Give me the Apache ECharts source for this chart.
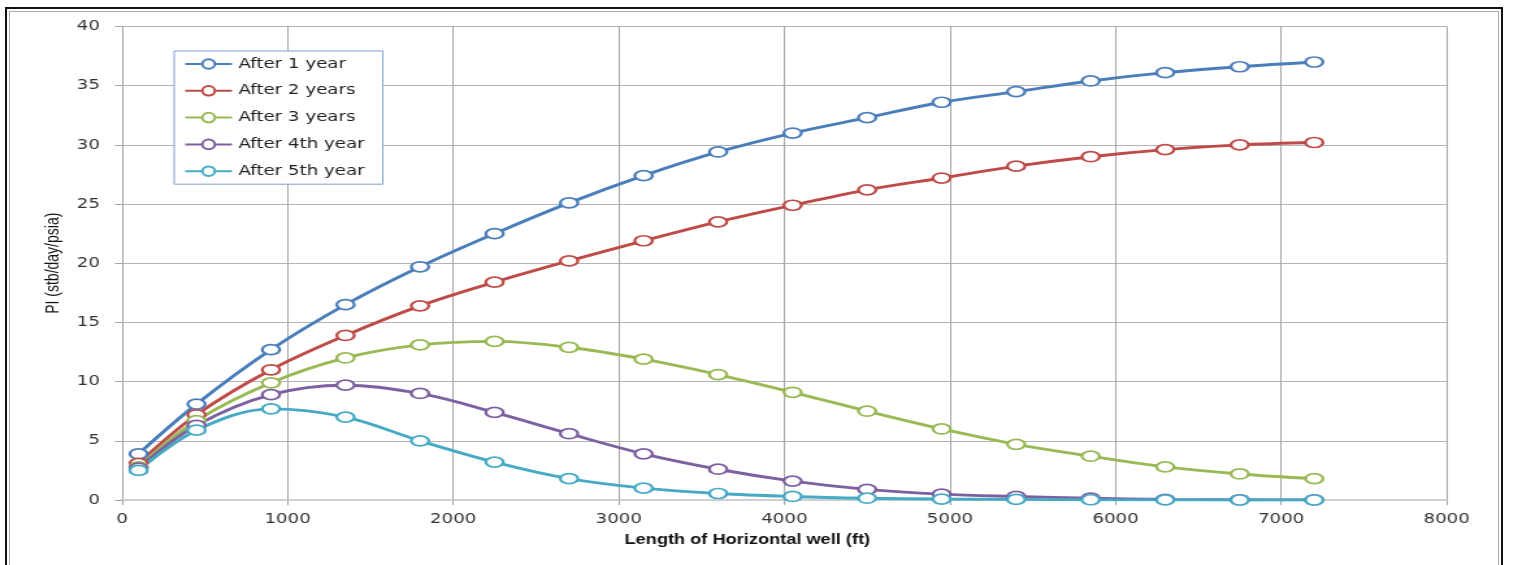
<!DOCTYPE html>
<html>
<head>
<meta charset="utf-8">
<script src="https://cdn.jsdelivr.net/npm/echarts@6/dist/echarts.min.js"></script>
<style>
  html, body { margin: 0; padding: 0; background: #fff; overflow: hidden; }
  #frame { position: absolute; left: 5px; top: 7px; width: 1494px; height: 600px; border: 2px solid #111; }
  #frame2 { position: absolute; left: 9px; top: 11px; width: 1488px; height: 600px; border: 1px solid #aaa; }
  /* the original picture is stretched sideways, so the chart is drawn narrow and widened */
  #chart { position: absolute; left: 0; top: 0; width: 1168px; height: 565px; transform: scaleX(1.2997); transform-origin: 0 0; }
</style>
</head>
<body>
<div id="frame"></div>
<div id="frame2"></div>
<div id="chart"></div>
<script>
  const lengths = [100, 450, 900, 1350, 1800, 2250, 2700, 3150, 3600, 4050, 4500, 4950, 5400, 5850, 6300, 6750, 7200];
  const year1 = [3.9, 8.1, 12.7, 16.5, 19.7, 22.5, 25.1, 27.4, 29.4, 31.0, 32.3, 33.6, 34.5, 35.4, 36.1, 36.6, 37.0];
  const year2 = [3.1, 7.2, 11.0, 13.9, 16.4, 18.4, 20.2, 21.9, 23.5, 24.9, 26.2, 27.2, 28.2, 29.0, 29.6, 30.0, 30.2];
  const year3 = [2.8, 6.7, 9.9, 12.0, 13.1, 13.4, 12.9, 11.9, 10.6, 9.1, 7.5, 6.0, 4.7, 3.7, 2.8, 2.2, 1.8];
  const year4 = [2.7, 6.3, 8.9, 9.7, 9.0, 7.4, 5.6, 3.9, 2.6, 1.6, 0.9, 0.5, 0.3, 0.15, 0.05, 0.02, 0.01];
  const year5 = [2.5, 5.9, 7.7, 7.0, 5.0, 3.2, 1.8, 1.0, 0.55, 0.3, 0.15, 0.08, 0.05, 0.02, 0.01, 0.0, 0.0];
  const names = ["After 1 year", "After 2 years", "After 3 years", "After 4th year", "After 5th year"];
  const colors = ["#4a7ebb", "#be4b48", "#98b954", "#7d60a0", "#46aac5"];

  const chart = echarts.init(document.getElementById("chart"));
  const valueSets = [year1, year2, year3, year4, year5];

  const series = valueSets.map((vals, i) => ({
    name: names[i],
    type: "line",
    smooth: 0.35,
    symbol: "emptyCircle",
    symbolSize: [13.5, 10],
    lineStyle: { width: 2.9, color: colors[i] },
    itemStyle: { color: colors[i], borderWidth: 1.6 },
    data: lengths.map((x, k) => [x, vals[k]])
  }));

  const tickFont = { fontFamily: "DejaVu Sans", fontSize: 14, color: "#333" };

  chart.setOption({
    animation: false,
    color: colors,
    grid: { left: 93.85, right: 54.9, top: 26.5, bottom: 65 },
    legend: {
      orient: "vertical",
      left: 134,
      top: 51,
      padding: [6, 14, 6, 7.5],
      itemWidth: 36,
      itemHeight: 12,
      itemGap: 12.8,
      backgroundColor: "#fff",
      borderColor: "#7f9fcf",
      borderWidth: 1,
      textStyle: { fontFamily: "DejaVu Sans", fontSize: 14, color: "#222" },
      data: names
    },
    xAxis: {
      type: "value",
      min: 0,
      max: 8000,
      interval: 1000,
      name: "Length of Horizontal well (ft)",
      nameLocation: "middle",
      nameGap: 33,
      nameTextStyle: {
        fontFamily: "'Liberation Sans Narrow', 'Liberation Sans'",
        fontWeight: "bold",
        fontSize: 14,
        color: "#111",
        padding: [0, 57, 0, 0]
      },
      axisLine: { lineStyle: { color: "#d0d0d0", width: 2 } },
      axisTick: { show: true, length: 5, lineStyle: { color: "#a0a0a0" } },
      axisLabel: Object.assign({ margin: 12, formatter: (v) => String(v) }, tickFont),
      splitLine: { lineStyle: { color: "#a6a6a6", width: 1 } }
    },
    yAxis: {
      type: "value",
      min: 0,
      max: 40,
      interval: 5,
      name: "PI (stb/day/psia)",
      nameLocation: "middle",
      nameGap: 45,
      nameTextStyle: {
        fontFamily: "'Liberation Sans Narrow', 'Liberation Sans'",
        fontSize: 14,
        color: "#111"
      },
      axisLine: { show: true, lineStyle: { color: "#a6a6a6", width: 1 } },
      axisTick: { show: true, length: 5.4, lineStyle: { color: "#a6a6a6" } },
      axisLabel: Object.assign({ margin: 17, formatter: (v) => String(v) }, tickFont),
      splitLine: { lineStyle: { color: "#b4b4b4", width: 1 } }
    },
    series
  });
</script>
</body>
</html>
